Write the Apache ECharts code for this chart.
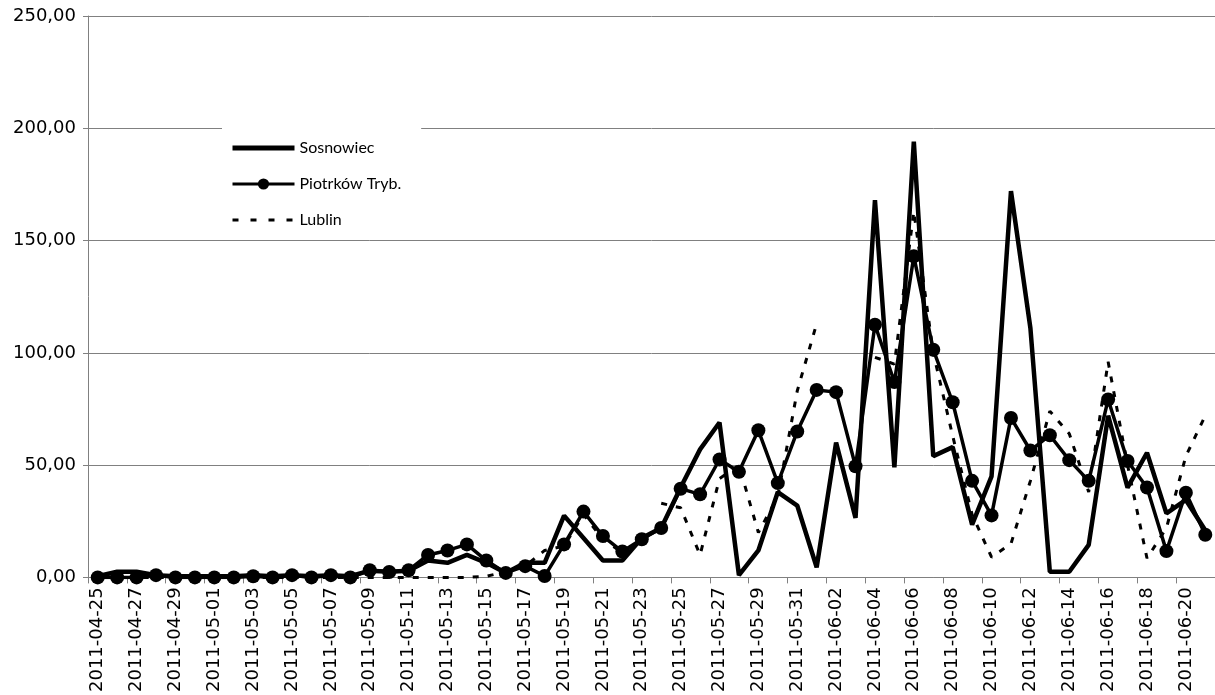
<!DOCTYPE html>
<html>
<head>
<meta charset="utf-8">
<script src="https://cdn.jsdelivr.net/npm/echarts@6/dist/echarts.min.js"></script>
<style>
html,body{margin:0;padding:0;background:#fff;}
#chart{width:1215px;height:695px;}
</style>
</head>
<body>
<div id="chart"></div>
<script>
const dates = [
 '2011-04-25','2011-04-26','2011-04-27','2011-04-28','2011-04-29','2011-04-30',
 '2011-05-01','2011-05-02','2011-05-03','2011-05-04','2011-05-05','2011-05-06','2011-05-07','2011-05-08','2011-05-09','2011-05-10',
 '2011-05-11','2011-05-12','2011-05-13','2011-05-14','2011-05-15','2011-05-16','2011-05-17','2011-05-18','2011-05-19','2011-05-20',
 '2011-05-21','2011-05-22','2011-05-23','2011-05-24','2011-05-25','2011-05-26','2011-05-27','2011-05-28','2011-05-29','2011-05-30','2011-05-31',
 '2011-06-01','2011-06-02','2011-06-03','2011-06-04','2011-06-05','2011-06-06','2011-06-07','2011-06-08','2011-06-09','2011-06-10',
 '2011-06-11','2011-06-12','2011-06-13','2011-06-14','2011-06-15','2011-06-16','2011-06-17','2011-06-18','2011-06-19','2011-06-20','2011-06-21'
];
const sosnowiec = [
 0.5, 2.5, 2.5, 1, 0.5, 0.5,
 0.5, 0.5, 1, 0.5, 1, 0.5, 1, 0.5, 3, 2.5,
 3, 7.5, 6.5, 10, 6.5, 2, 6.5, 6.5, 27.5, 17.5,
 7.5, 7.5, 17.5, 22, 40, 57, 69, 1, 12, 38, 32,
 4.5, 60, 26.5, 168, 49, 194, 54, 58, 23.5, 45,
 172, 111, 2.5, 2.5, 14.5, 72, 40, 55.5, 28.5, 34.5, 21
];
const piotrkow = [
 0, 0, 0, 1, 0, 0,
 0, 0, 0.5, 0, 1, 0, 1, 0, 3.2, 2.4,
 3.2, 10, 12, 14.7, 7.5, 2, 5, 0.6, 14.7, 29.3,
 18.4, 11.5, 17, 22, 39.5, 37, 52.5, 47, 65.5, 42, 65,
 83.5, 82.5, 49.5, 112.5, 87, 143, 101.4, 78, 43, 27.6,
 71, 56.5, 63.3, 52.2, 43, 79.2, 51.8, 40, 11.7, 37.7, 19
];
const lublin = [
 0, 0, 0, 0, 0, 0,
 0, 0, 0, 0, 0, 0, 0, 0, 0, 0,
 0, 0, 0, 0, 0.5, 2.5, 5, 12, 14, 28,
 17, 11, null, 33, 31, 10, 44, 50, 20, 36, 83,
 113, null, null, 98, 95, 163, 100, 63, 28, 9,
 15, 43, 74, 64, 38, 96, 50, 8.5, 22, 54, 72
];
const seriesNames = ['Sosnowiec', 'Piotrków Tryb.', 'Lublin'];

const chart = echarts.init(document.getElementById('chart'));
chart.setOption({
  animation: false,
  backgroundColor: '#fff',
  grid: { left: 88, right: 0, top: 16, bottom: 117, containLabel: false },
  legend: {
    orient: 'vertical',
    left: 222, top: 120,
    padding: [20, 20, 8, 8],
    backgroundColor: '#fff',
    itemWidth: 62, itemHeight: 14, itemGap: 20,
    textStyle: { fontFamily: 'Lato', fontSize: 16, color: '#000' },
    data: [
      { name: seriesNames[0], itemStyle: { opacity: 0 }, lineStyle: { width: 5 } },
      { name: seriesNames[1], itemStyle: { opacity: 1 }, lineStyle: { width: 3 } },
      { name: seriesNames[2], itemStyle: { opacity: 0 }, lineStyle: { width: 3, type: [6, 12] } }
    ]
  },
  xAxis: {
    type: 'category',
    data: dates,
    boundaryGap: true,
    axisLine: { lineStyle: { color: '#808080', width: 1 } },
    axisTick: { show: true, interval: 1, length: 6, lineStyle: { color: '#808080' } },
    axisLabel: { interval: 1, rotate: 90, fontFamily: 'DejaVu Sans', fontSize: 18, color: '#000', margin: 10 },
    splitLine: { show: false }
  },
  yAxis: {
    type: 'value',
    min: 0, max: 250, interval: 50,
    axisLine: { show: true, lineStyle: { color: '#808080', width: 1 } },
    axisTick: { show: true, length: 5, lineStyle: { color: '#808080' } },
    axisLabel: { fontFamily: 'DejaVu Sans', fontSize: 18, color: '#000', margin: 12,
      formatter: v => v.toFixed(2).replace('.', ',') },
    splitLine: { show: true, lineStyle: { color: '#808080', width: 1 } }
  },
  series: [
    { name: seriesNames[0], type: 'line', data: sosnowiec, symbol: 'none',
      lineStyle: { color: '#000', width: 4.5 }, itemStyle: { color: '#000' } },
    { name: seriesNames[1], type: 'line', data: piotrkow, symbol: 'circle', symbolSize: 14, showAllSymbol: true,
      lineStyle: { color: '#000', width: 3.5 }, itemStyle: { color: '#000' } },
    { name: seriesNames[2], type: 'line', data: lublin, symbol: 'none', connectNulls: false,
      lineStyle: { color: '#000', width: 3, type: [6, 9] }, itemStyle: { color: '#000' } }
  ]
});
</script>
</body>
</html>
